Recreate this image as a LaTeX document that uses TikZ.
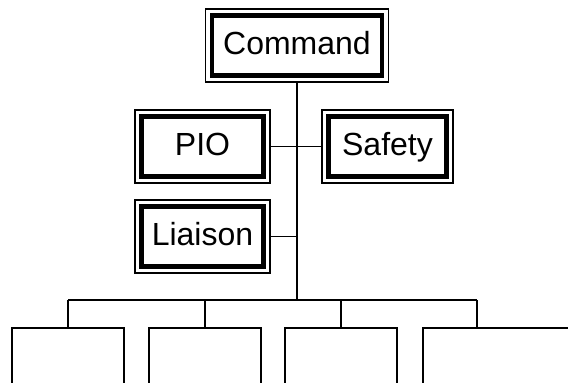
\documentclass[tikz,border=0pt]{standalone}
\usepackage{fontspec}
\setmainfont{Liberation Sans}
\begin{document}
\begin{tikzpicture}[x=1pt,y=-1pt,
    box/.style={draw, line width=1.4pt, minimum height=73pt, inner sep=0pt,
      text height=23pt, text depth=6pt,
      font=\fontsize{32}{36}\selectfont,
      path picture={\draw[line width=4.5pt]
        ([shift={(6.5pt,-6.5pt)}]path picture bounding box.north west) rectangle
        ([shift={(-6.5pt,6.5pt)}]path picture bounding box.south east);}},
    leaf/.style={draw, line width=1.6pt, minimum width=112pt, minimum height=100pt, anchor=north},
    link/.style={line width=1.6pt}]
        \useasboundingbox (0,0) rectangle (568,383);
        \clip (0,0) rectangle (568,383);
        % top of the chart
        \node[box, minimum width=183pt] (cmd) at (297,45.5) {Command};
        \node[box, minimum width=135pt] (pio) at (202.5,146.5) {PIO};
        \node[box, minimum width=131pt] (safety) at (387.5,146.5) {Safety};
        \node[box, minimum width=135pt] (liaison) at (202.5,236.5) {Liaison};
        \coordinate (hub) at (297,300);
        \draw[link] (cmd.south) -- (hub);
        \draw[link] (pio.east) -- (safety.west);
        \draw[link] (liaison.east) -- (liaison.east -| hub);
        % sections
        \coordinate (b1) at (68,300);
        \coordinate (b2) at (205,300);
        \coordinate (b3) at (341,300);
        \coordinate (b4) at (477,300);
        \draw[link] (b1) -- (b4);
        \node[leaf] (leaf1) at (68,327) {};
        \node[leaf] (leaf2) at (205,327) {};
        \node[leaf] (leaf3) at (341,327) {};
        \node[leaf, anchor=north west, minimum width=170pt] (leaf4) at (422,327) {};
        \foreach \i in {1,...,4}
            \draw[link] (b\i) -- (b\i |- leaf\i.north);
    \end{tikzpicture}
\end{document}
